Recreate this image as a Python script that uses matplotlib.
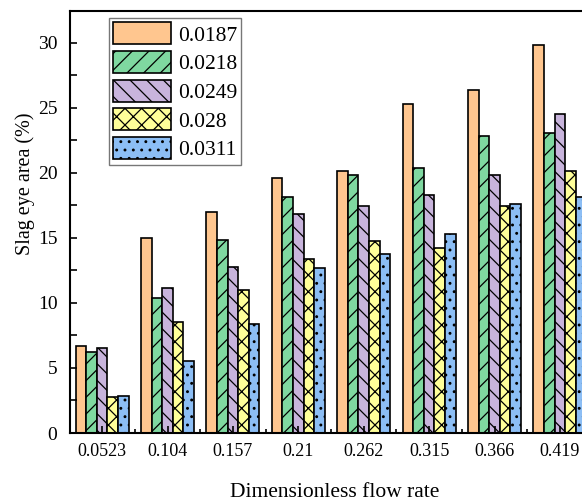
import matplotlib
matplotlib.use("Agg")
import matplotlib.pyplot as plt
import numpy as np
from matplotlib.ticker import MultipleLocator

# flow rates on the x axis and the five series shown in the legend
flow_rates = ["0.0523", "0.104", "0.157", "0.21", "0.262", "0.315", "0.366", "0.419"]
series_labels = ["0.0187", "0.0218", "0.0249", "0.028", "0.0311"]

s_0187 = [6.7, 14.97, 16.97, 19.65, 20.13, 25.28, 26.38, 29.85]
s_0218 = [6.26, 10.36, 14.82, 18.15, 19.87, 20.41, 22.87, 23.08]
s_0249 = [6.51, 11.18, 12.74, 16.85, 17.44, 18.33, 19.87, 24.54]
s_028 = [2.74, 8.51, 11.03, 13.38, 14.77, 14.26, 17.49, 20.18]
s_0311 = [2.82, 5.56, 8.38, 12.72, 13.79, 15.31, 17.59, 18.18]

series = [s_0187, s_0218, s_0249, s_028, s_0311]
colors = ["#FFC68F", "#7FD8A0", "#C8B4DC", "#FFFF99", "#8CBEF5"]
hatches = ["", "//", "\\\\", "xx", ".."]

plt.rcParams["font.family"] = ["Liberation Serif", "DejaVu Serif"]
plt.rcParams["hatch.linewidth"] = 0.9

fig = plt.figure(figsize=(5.82, 5.01), dpi=100)
# axes run past the right edge, like the cropped original
ax = fig.add_axes([70 / 582, 1 - 433 / 501, 529.2 / 582, 422 / 501])

x = np.arange(len(flow_rates))
width = 0.162
for i, (vals, lab) in enumerate(zip(series, series_labels)):
    ax.bar(x + (i - 2) * width, vals, width, color=colors[i], hatch=hatches[i],
           edgecolor="black", linewidth=1.2, label=lab)

ax.set_xlim(-0.492, 7.6)
ax.set_ylim(0, 32.46)
ax.set_xticks(x)
ax.set_xticklabels(flow_rates)
ax.xaxis.set_minor_locator(MultipleLocator(0.5))
ax.yaxis.set_major_locator(MultipleLocator(5))
ax.yaxis.set_minor_locator(MultipleLocator(2.5))
ax.tick_params(which="both", direction="in", width=1.2)
ax.tick_params(which="major", length=5)
ax.tick_params(which="minor", length=5)
ax.tick_params(axis="x", which="minor", length=3)
ax.tick_params(axis="x", labelsize=13, pad=7)
ax.tick_params(axis="y", labelsize=14, pad=9)
for sp in ax.spines.values():
    sp.set_linewidth(1.5)

ax.set_xlabel("Dimensionless flow rate", fontsize=15.5, labelpad=17)
ax.set_ylabel("Slag eye area (%)", fontsize=14.5)
ax.yaxis.set_label_coords(-0.066, 0.59)

leg = ax.legend(loc="upper left", bbox_to_anchor=(109 / 582, 1 - 18 / 501),
                bbox_transform=fig.transFigure, fontsize=15.5, frameon=True,
                fancybox=False, handlelength=2.7, handleheight=1.2,
                labelspacing=0.25, handletextpad=0.3, borderpad=0.2,
                borderaxespad=0)
leg.get_frame().set_edgecolor("#555555")
leg.get_frame().set_linewidth(1.0)

fig.savefig("out.png", dpi=100)
